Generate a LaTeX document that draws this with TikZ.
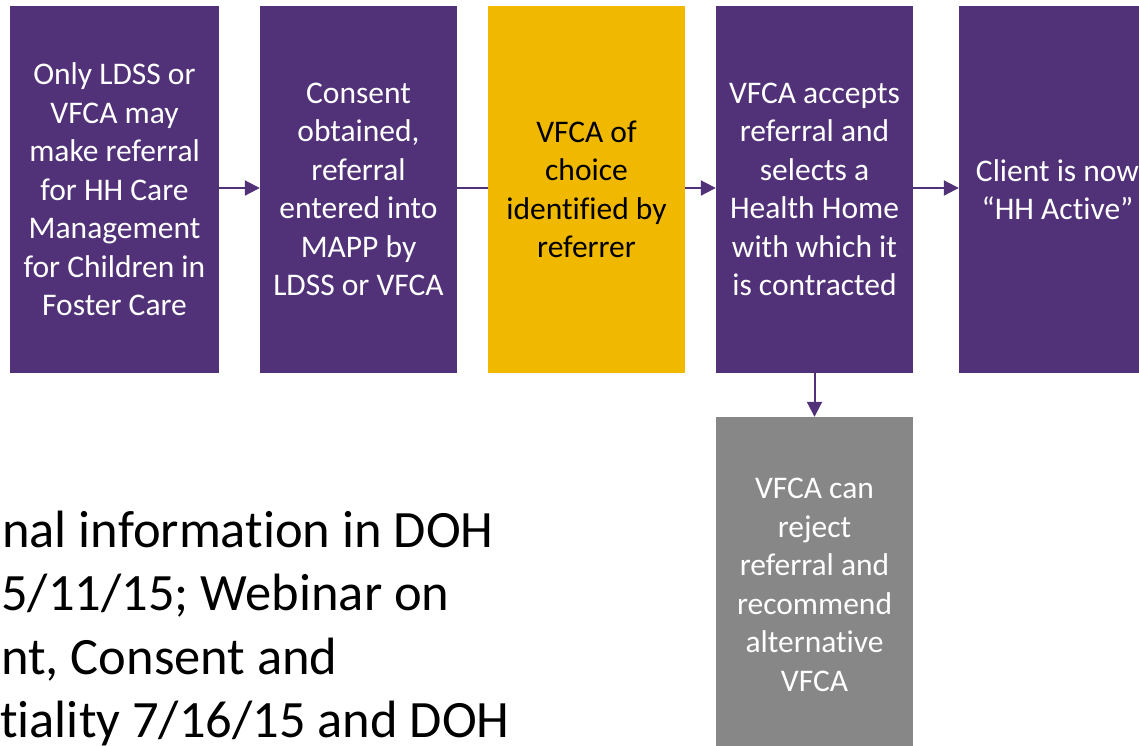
\documentclass[tikz,border=0pt]{standalone}
\usepackage{fontspec}
\setmainfont{Carlito}[Ligatures={NoCommon,NoRequired,NoContextual}]
\usetikzlibrary{arrows.meta}
\definecolor{hhpurple}{RGB}{81,50,120}
\definecolor{hhgold}{RGB}{240,185,0}
\definecolor{hhgray}{RGB}{135,135,135}
\tikzset{
  stepbox/.style={rectangle, fill=hhpurple, draw=none, text=white, minimum width=#1, minimum height=367pt, inner sep=0pt, align=center, font=\fontsize{31.5}{38.5}\selectfont},
  stepbox/.default=197pt,
  conn/.style={draw=hhpurple, line width=2pt},
  arr/.style={conn, -{Triangle[length=15pt,width=15pt]}},
  noteline/.style={anchor=base west, inner sep=0pt, font=\fontsize{52.5}{63.5}\selectfont, text=black},
}
\begin{document}
\begin{tikzpicture}[x=1pt,y=-1pt]
\useasboundingbox (0,0) rectangle (1139,745);
\clip (0,0) rectangle (1139,745);
\node[stepbox=209pt] (b1) at (114.5,189.5) {Only LDSS or\\VFCA may\\make referral\\for HH Care\\Management\\for Children in\\Foster Care};
\node[stepbox] (b2) at (358.5,189.5) {Consent\\obtained,\\referral\\entered into\\MAPP by\\LDSS or VFCA};
\node[stepbox, fill=hhgold, text=black] (b3) at (586.5,189.5) {VFCA of\\choice\\identified by\\referrer};
\node[stepbox] (b4) at (814.5,189.5) {VFCA accepts\\referral and\\selects a\\Health Home\\with which it\\is contracted};
\node[stepbox] (b5) at (1057.5,189.5) {Client is now\\“HH Active”};
\node[stepbox, fill=hhgray, minimum height=336pt] (b6) at (814.5,585) {VFCA can\\reject\\referral and\\recommend\\alternative\\VFCA};
\draw[arr] (b1.east |- 0,188) -- (b2.west |- 0,188);
\draw[conn] (b2.east |- 0,188) -- (b3.west |- 0,188);
\draw[arr] (b3.east |- 0,188) -- (b4.west |- 0,188);
\draw[arr] (b4.east |- 0,188) -- (b5.west |- 0,188);
\draw[arr] (b4.south) -- (b6.north);
\node[noteline] (n1) at (2,547) {nal information in DOH};
\node[noteline] (n2) at (1,610.5) {5/11/15; Webinar on};
\node[noteline] (n3) at (1,674) {nt, Consent and};
\node[noteline] (n4) at (0,737.5) {tiality 7/16/15 and DOH};
\end{tikzpicture}
\end{document}
